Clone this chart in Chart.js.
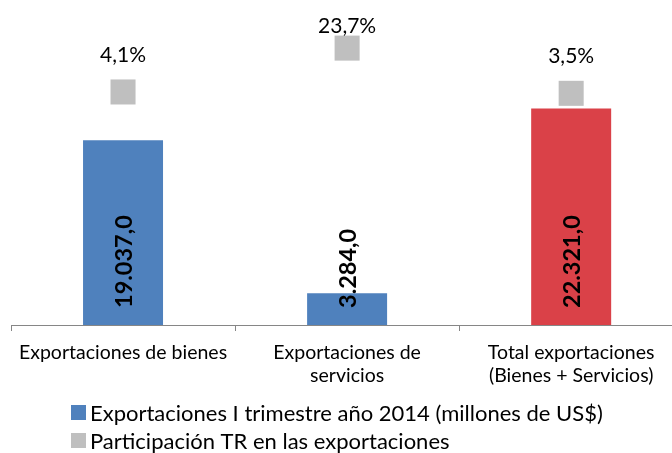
<!DOCTYPE html>
<html>
<head>
<meta charset="utf-8">
<script src="https://cdn.jsdelivr.net/npm/chart.js@4/dist/chart.umd.min.js"></script>
<style>
  html, body { margin: 0; padding: 0; background: #fff; overflow: hidden; }
  #grafico { display: block; }
</style>
</head>
<body>
<canvas id="grafico" width="672" height="453"></canvas>
<script>
// datos
var categorias = [
    ['Exportaciones de bienes'],
    ['Exportaciones de', 'servicios'],
    ['Total exportaciones', '(Bienes + Servicios)']
];
var exportaciones = [19037.0, 3284.0, 22321.0];
var participacion = [4.1, 23.7, 3.5];
var nombresSeries = [
    'Exportaciones I trimestre año 2014 (millones de US$)',
    'Participación TR en las exportaciones'
];

var fuente = 'Lato, "Open Sans", sans-serif';

function formatoNumero(v) {
    var partes = v.toFixed(1).split('.');
    var entero = partes[0].replace(/\B(?=(\d{3})+(?!\d))/g, '.');
    return entero + ',' + partes[1];
}
function formatoPct(v) {
    return v.toFixed(1).replace('.', ',') + '%';
}
function aPuntos(valores) {
    return valores.map(function (v, i) { return {x: i, y: v}; });
}

var etiquetas = {
    id: 'etiquetas',
    afterDatasetsDraw: function (chart) {
        var ctx = chart.ctx;
        ctx.save();
        ctx.fillStyle = '#000';
        // valores dentro de las barras (rotados)
        ctx.font = 'bold 23.5px ' + fuente;
        ctx.textBaseline = 'middle';
        ctx.textAlign = 'left';
        chart.getDatasetMeta(0).data.forEach(function (bar, i) {
            ctx.save();
            ctx.translate(bar.x + 1, bar.base - 17);
            ctx.rotate(-Math.PI / 2);
            ctx.fillText(formatoNumero(exportaciones[i]), 0, 0);
            ctx.restore();
        });
        // porcentajes sobre los cuadrados
        ctx.font = '21px ' + fuente;
        ctx.textAlign = 'center';
        chart.getDatasetMeta(1).data.forEach(function (pt, i) {
            var y = Math.max(pt.y - 37, 26);
            ctx.fillText(formatoPct(participacion[i]), pt.x, y);
        });
        ctx.restore();
    },
    afterDraw: function (chart) {
        // leyenda alineada a la izquierda
        var ctx = chart.ctx;
        ctx.save();
        ctx.font = '22px ' + fuente;
        ctx.textBaseline = 'middle';
        ctx.textAlign = 'left';
        var colores = ['#4F81BD', '#BFBFBF'];
        nombresSeries.forEach(function (nombre, i) {
            var y = 412.5 + i * 28;
            ctx.fillStyle = colores[i];
            ctx.fillRect(71, y - 7.5, 15, 15);
            ctx.fillStyle = '#000';
            ctx.fillText(nombre, 90, y + 1);
        });
        ctx.restore();
    }
};

new Chart(document.getElementById('grafico').getContext('2d'), {
    data: {
        datasets: [
            {
                type: 'bar',
                label: nombresSeries[0],
                data: aPuntos(exportaciones),
                backgroundColor: ['#4F81BD', '#4F81BD', '#DA4148'],
                borderWidth: 0,
                categoryPercentage: 1,
                barPercentage: 0.357,
                yAxisID: 'y',
                order: 2
            },
            {
                type: 'line',
                label: nombresSeries[1],
                data: aPuntos(participacion),
                showLine: false,
                pointStyle: 'rect',
                pointRadius: 17.7,
                pointHoverRadius: 17.7,
                pointBackgroundColor: '#BFBFBF',
                pointBorderWidth: 0,
                yAxisID: 'y2',
                order: 1
            }
        ]
    },
    options: {
        responsive: false,
        animation: false,
        layout: {autoPadding: false, padding: {left: 11, right: 0, top: 34, bottom: 68}},
        plugins: {
            legend: {display: false},
            tooltip: {enabled: false}
        },
        scales: {
            x: {
                type: 'linear',
                offset: false,
                bounds: 'data',
                min: -0.5,
                max: 2.45,
                grid: {
                    offset: true,
                    drawOnChartArea: false,
                    drawTicks: true,
                    tickLength: 6,
                    color: '#868686'
                },
                border: {color: '#868686', width: 1},
                ticks: {
                    color: '#000',
                    font: {family: fuente, size: 19.5, lineHeight: 1.2},
                    padding: 10,
                    maxRotation: 0,
                    autoSkip: false,
                    includeBounds: false,
                    callback: function (value) {
                        return categorias[value];
                    }
                },
                afterBuildTicks: function (scale) {
                    // la última categoría sale del lienzo como en el original
                    scale.ticks = categorias.map(function (c, i) { return {value: i}; });
                    scale.min = -0.5;
                    scale.max = 2.45;
                },
                afterFit: function (scale) {
                    scale.height = 60;
                    scale.paddingLeft = 0;
                    scale.paddingRight = 0;
                }
            },
            y: {display: false, min: 0, max: 30000},
            y2: {display: false, position: 'right', min: -100, max: 30}
        }
    },
    plugins: [etiquetas]
});
</script>
</body>
</html>
